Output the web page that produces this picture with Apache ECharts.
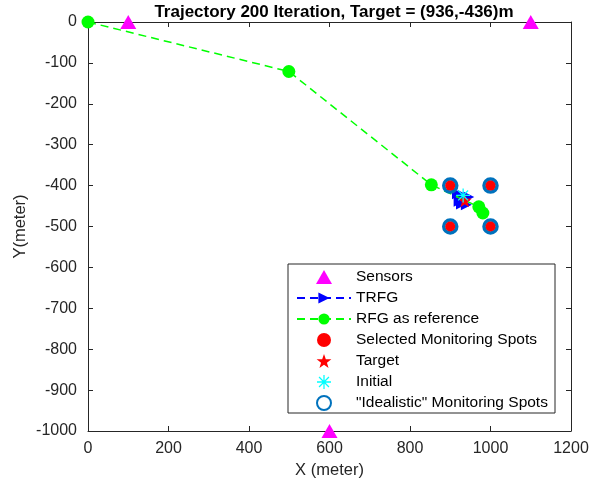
<!DOCTYPE html>
<html><head><meta charset="utf-8">
<script src="https://cdn.jsdelivr.net/npm/echarts@6/dist/echarts.min.js"></script>
<style>html,body{margin:0;padding:0;background:#fff}#c{width:603px;height:485px}</style>
</head><body><div id="c"></div>
<script>
var titleText = 'Trajectory 200 Iteration, Target = (936,-436)m';
var xTicks = [0, 200, 400, 600, 800, 1000, 1200];
var yTicks = [0, -100, -200, -300, -400, -500, -600, -700, -800, -900, -1000];
var sensors = [[100, 0], [1100, 0], [600, -1000]];
var trfg = [[936, -436], [918, -420], [928, -445], [946, -428], [922, -438], [940, -447], [932, -424]];
var rfg = [[0, 0], [499, -121], [853, -398], [971, -452], [981, -467]];
var selectedSpots = [[900, -400], [1000, -400], [900, -500], [1000, -500]];
var target = [[936, -436]];
var initial = [[932, -424]];
var idealSpots = [[900, -400], [1000, -400], [900, -500], [1000, -500]];
var legendNames = ['Sensors', 'TRFG', 'RFG as reference', 'Selected Monitoring Spots', 'Target', 'Initial', '"Idealistic" Monitoring Spots'];

function asteriskPath() {
  var p = '', w = 0.9, L = 10;
  for (var k = 0; k < 4; k++) {
    var a = k * Math.PI / 4, c = Math.cos(a), s = Math.sin(a);
    var pts = [[-L, -w], [L, -w], [L, w], [-L, w]].map(function (q) {
      return [(q[0] * c - q[1] * s).toFixed(2), (q[0] * s + q[1] * c).toFixed(2)];
    });
    p += 'M' + pts[0].join(',') + 'L' + pts[1].join(',') + 'L' + pts[2].join(',') + 'L' + pts[3].join(',') + 'Z';
  }
  return 'path://' + p;
}
var triPath = 'path://M0,-7L8,7L-8,7Z';
var starPath = 'path://M0,-10L2.35,-3.24L9.51,-3.09L3.8,1.24L5.88,8.09L0,4L-5.88,8.09L-3.8,1.24L-9.51,-3.09L-2.35,-3.24Z';

var font = 'Arial, "Liberation Sans", Helvetica, sans-serif';
var axColor = '#262626';
var chart = echarts.init(document.getElementById('c'));
chart.setOption({
  animation: false,
  title: { text: titleText, left: 329, top: -1, textAlign: 'center',
    textStyle: { fontFamily: font, fontSize: 17, fontWeight: 'bold', color: '#000' } },
  grid: { left: 88, right: 32, top: 22, bottom: 54, show: false },
  legend: {
    orient: 'vertical', left: 296, top: 269, itemWidth: 54, itemHeight: 14, itemGap: 5,
    padding: 0, symbolKeepAspect: true,
    textStyle: { fontFamily: font, fontSize: 15.5, color: '#000' },
    data: [
      { name: legendNames[0], icon: triPath },
      { name: legendNames[1] },
      { name: legendNames[2] },
      { name: legendNames[3] },
      { name: legendNames[4] },
      { name: legendNames[5] },
      { name: legendNames[6] }
    ]
  },
  graphic: [{ type: 'rect', shape: { x: 288, y: 264, width: 267, height: 149 },
    style: { fill: '#fff', stroke: axColor, lineWidth: 1 }, z: 3 }],
  xAxis: [{
    type: 'value', min: 0, max: 1200, interval: 200, position: 'bottom',
    name: 'X (meter)', nameLocation: 'middle', nameGap: 29,
    nameTextStyle: { fontFamily: font, fontSize: 16.5, color: axColor },
    axisLine: { show: true, onZero: false, lineStyle: { color: axColor } },
    axisTick: { show: true, inside: true, length: 5, lineStyle: { color: axColor } },
    axisLabel: { fontFamily: font, fontSize: 16, color: axColor, margin: 10,
      formatter: function (v) { return xTicks.indexOf(v) >= 0 ? String(v) : ''; } },
    splitLine: { show: false }
  }, {
    type: 'value', min: 0, max: 1200, interval: 200, position: 'top',
    axisLine: { show: true, onZero: false, lineStyle: { color: axColor } },
    axisTick: { show: true, inside: true, length: 5, lineStyle: { color: axColor } },
    axisLabel: { show: false }, splitLine: { show: false }
  }],
  yAxis: [{
    type: 'value', min: -1000, max: 0, interval: 100, position: 'left',
    name: 'Y(meter)', nameLocation: 'middle', nameGap: 59, nameRotate: 90, nameMoveOverlap: false,
    nameTextStyle: { fontFamily: font, fontSize: 16.5, color: axColor },
    axisLine: { show: true, onZero: false, lineStyle: { color: axColor } },
    axisTick: { show: true, inside: true, length: 5, lineStyle: { color: axColor } },
    axisLabel: { fontFamily: font, fontSize: 16, color: axColor, margin: 11,
      formatter: function (v) { return yTicks.indexOf(v) >= 0 ? String(v) : ''; } },
    splitLine: { show: false }
  }, {
    type: 'value', min: -1000, max: 0, interval: 100, position: 'right',
    axisLine: { show: true, onZero: false, lineStyle: { color: axColor } },
    axisTick: { show: true, inside: true, length: 5, lineStyle: { color: axColor } },
    axisLabel: { show: false }, splitLine: { show: false }
  }],
  series: [
    { name: legendNames[0], type: 'scatter', data: sensors, symbol: triPath, symbolSize: [16, 14],
      itemStyle: { color: '#FF00FF', opacity: 1 }, clip: false, z: 5 },
    { name: legendNames[1], type: 'line', data: trfg, symbol: 'triangle', symbolRotate: -90, symbolSize: 11,
      showSymbol: true, lineStyle: { color: '#0000FF', width: 1.5, type: [8, 5] },
      itemStyle: { color: '#0000FF', opacity: 1 }, z: 4 },
    { name: legendNames[2], type: 'line', data: rfg, symbol: 'circle', symbolSize: 13,
      showSymbol: true, lineStyle: { color: '#00FF00', width: 1.5, type: [8, 5] },
      itemStyle: { color: '#00FF00', opacity: 1 }, clip: false, z: 5 },
    { name: legendNames[3], type: 'scatter', data: selectedSpots, symbol: 'circle', symbolSize: 10,
      itemStyle: { color: '#FF0000', opacity: 1 }, z: 6 },
    { name: legendNames[4], type: 'scatter', data: target, symbol: starPath,
      symbolSize: 14, itemStyle: { color: '#FF0000', opacity: 1 }, z: 7 },
    { name: legendNames[5], type: 'scatter', data: initial, symbol: asteriskPath(), symbolSize: 14,
      itemStyle: { color: '#00FFFF', opacity: 1 }, z: 8 },
    { name: legendNames[6], type: 'scatter', data: idealSpots, symbol: 'circle', symbolSize: 13,
      itemStyle: { color: 'rgba(0,0,0,0)', borderColor: '#0072BD', borderWidth: 3.5, opacity: 1 }, z: 5 }
  ]
});
</script></body></html>
